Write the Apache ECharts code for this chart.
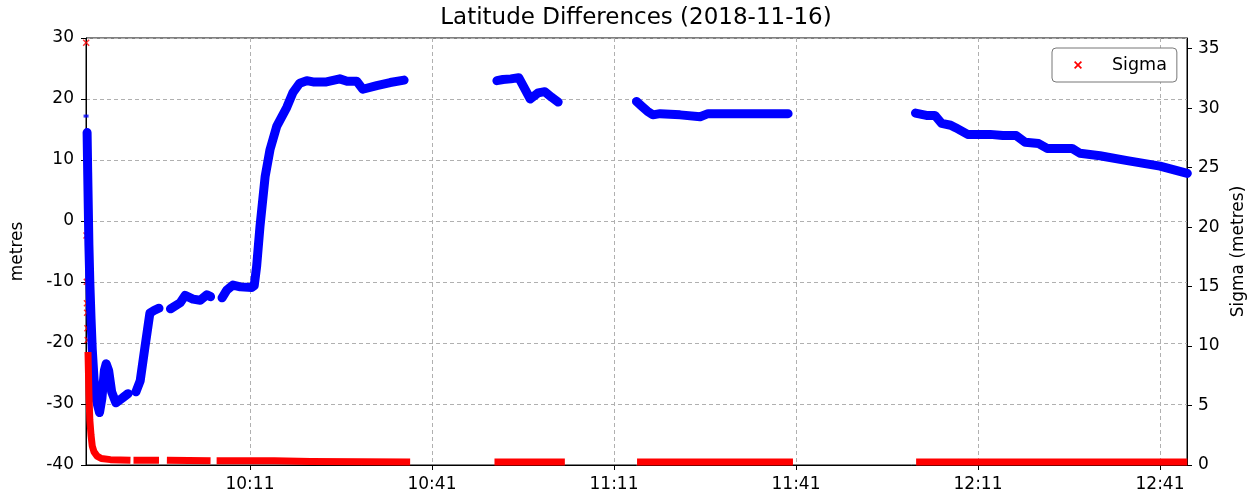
<!DOCTYPE html>
<html>
<head>
<meta charset="utf-8">
<title>Latitude Differences</title>
<script src="https://cdn.jsdelivr.net/npm/echarts@6/dist/echarts.min.js"></script>
<style>
  html, body { margin: 0; padding: 0; background: #fff; }
  #chart { width: 1260px; height: 504px; }
</style>
</head>
<body>
<div id="chart"></div>
<script>
// time is clock minutes since midnight (611 = 10:11), null = gap in the track
const latMinutes = [
  584.15, 584.25, 584.35, 584.45, 584.6, 584.8, 585.0, 585.3, 585.7, 586.2,
  586.6, 587.0, 587.3, 587.7, 588.2, 588.9, 590.0, 590.9, 591.6,
  592.2, 592.9, 593.7, 594.5, 595.3, 596.0, 596.9,
  597.9, 599.5, 600.3, 601.6, 602.8, 603.9, 604.5, 605.5,
  606.4, 607.2, 608.2, 609.4, 611.3, 611.7, 612.1, 612.65, 613.5, 614.3,
  615.4, 617.05, 618.1, 619.2, 620.35, 621.4, 623.6, 625.8, 627.0, 628.6,
  629.6, 631.9, 634.1, 636.4, 644,
  651.7, 652.7, 654.0, 655.3, 657.2, 658.5, 659.6, 660.7, 661.8, 668,
  674.7, 675.6, 676.5, 677.4, 678.6, 681.9, 685.2, 686.5, 688.5, 699.7, 710,
  720.7, 722.5, 723.9, 725.0, 726.5, 727.3, 729.3, 733.0, 735.1, 737.3,
  738.8, 741.0, 742.4, 746.5, 747.8, 751.1, 755.6, 761.0, 765.5
];
const latMetres = [
  14.5, 8, 2, -4, -10, -16, -21, -26, -29.5, -31.4,
  -29, -24.5, -23.4, -24.5, -28, -29.8, -29.0, -28.3, null,
  -28.0, -26.2, -20.6, -15.1, -14.6, -14.3, null,
  -14.4, -13.4, -12.2, -12.8, -13.0, -12.1, -12.4, null,
  -12.6, -11.3, -10.5, -10.8, -10.9, -10.6, -7.4, -0.9, 7.3, 11.7,
  15.5, 18.6, 21.1, 22.6, 23.0, 22.8, 22.8, 23.3, 22.9, 22.9,
  21.6, 22.2, 22.7, 23.1, null,
  23.0, 23.2, 23.3, 23.5, 20.0, 21.0, 21.2, 20.3, 19.5, null,
  19.6, 18.8, 18.0, 17.4, 17.6, 17.4, 17.1, 17.6, 17.6, 17.6, null,
  17.7, 17.3, 17.3, 16.0, 15.7, 15.3, 14.2, 14.2, 14.0, 14.0,
  12.9, 12.7, 11.9, 11.9, 11.1, 10.7, 9.9, 9.0, 7.8
];
const latLoneMinutes = [583.98];
const latLoneMetres = [17.2];

const sigmaMinutes = [
  584.3, 584.45, 584.6, 584.8, 585.0, 585.3, 585.8, 586.5, 588.0, 591.3,
  591.5, 591.8, 596.0, 596.5, 597.3, 604.5, 605.0, 605.5, 615.0, 621.0,
  637.4, 645, 651.3, 662.9, 668, 674.8, 700.5, 710, 720.8, 765.5
];
const sigmaMetres = [
  9.5, 6.0, 3.8, 2.5, 1.6, 1.1, 0.75, 0.55, 0.45, 0.4,
  null, 0.4, 0.4, null, 0.4, 0.35, null, 0.35, 0.35, 0.3,
  0.25, null, 0.25, 0.25, null, 0.25, 0.25, null, 0.25, 0.25
];
const sigmaSpikeMinutes = [584.0, 584.05, 584.1, 584.12, 584.15, 584.2, 584.25];
const sigmaSpikeMetres = [35.5, 19.3, 15.4, 13.6, 12.8, 11.5, 10.5];

const timeTicks = [611, 641, 671, 701, 731, 761];
const sigmaTicks = [0, 5, 10, 15, 20, 25, 30, 35];

const pairs = (xs, ys) => xs.map((x, i) => [x, ys[i] === null ? '-' : ys[i]]);
const hhmm = v => {
  const m = Math.round(v);
  return Math.floor(m / 60) + ':' + String(m % 60).padStart(2, '0');
};

const font = 'DejaVu Sans';
const xMark = 'path://M0,1.5L1.5,0L5,3.5L8.5,0L10,1.5L6.5,5L10,8.5L8.5,10L5,6.5L1.5,10L0,8.5L3.5,5Z';
const dashed = { show: true, lineStyle: { color: '#b0b0b0', width: 1, type: [4, 3] } };

const chart = echarts.init(document.getElementById('chart'));
chart.setOption({
  animation: false,
  textStyle: { fontFamily: font },
  title: {
    text: 'Latitude Differences (2018-11-16)',
    left: 631, top: 2, textAlign: 'center',
    textStyle: { fontFamily: font, fontSize: 23, fontWeight: 'normal', color: '#000' }
  },
  legend: {
    data: [{ name: 'Sigma', icon: xMark }],
    left: 1052, top: 48,
    itemWidth: 8, itemHeight: 8, itemGap: 0,
    padding: [7, 10, 7, 22],
    borderColor: '#777', borderWidth: 1, borderRadius: 4,
    backgroundColor: '#fff',
    selectedMode: false,
    itemStyle: { color: '#ff0000' },
    textStyle: { fontFamily: font, fontSize: 17.5, color: '#000', lineHeight: 20, padding: [0, 0, 0, 25] }
  },
  grid: {
    left: 86, right: 73, top: 38, bottom: 39,
    show: true, borderColor: '#000', borderWidth: 1
  },
  xAxis: {
    type: 'value',
    min: 583.97, max: 765.45,
    axisLine: { show: true, onZero: false, lineStyle: { color: '#000', width: 1 } },
    axisTick: { show: true, length: 5, customValues: timeTicks, lineStyle: { color: '#000' } },
    axisLabel: { customValues: timeTicks, formatter: hhmm, fontSize: 17, color: '#000', margin: 11 },
    splitLine: dashed
  },
  yAxis: [
    {
      type: 'value', position: 'left',
      min: -40, max: 30, interval: 10,
      name: 'metres', nameLocation: 'middle', nameGap: 60,
      nameTextStyle: { fontFamily: font, fontSize: 17, color: '#000' },
      axisLine: { show: true, onZero: false, lineStyle: { color: '#000', width: 1 } },
      axisTick: { show: true, length: 5, lineStyle: { color: '#000' } },
      axisLabel: { fontSize: 17, color: '#000', margin: 12 },
      splitLine: dashed
    },
    {
      type: 'value', position: 'right',
      min: 0, max: 35.9,
      name: 'Sigma (metres)', nameLocation: 'middle', nameGap: 42,
      nameTextStyle: { fontFamily: font, fontSize: 17, color: '#000' },
      axisLine: { show: true, onZero: false, lineStyle: { color: '#000', width: 1 } },
      axisTick: { show: true, length: 5, customValues: sigmaTicks, lineStyle: { color: '#000' } },
      axisLabel: { customValues: sigmaTicks, fontSize: 17, color: '#000', margin: 11 },
      splitLine: { show: false }
    }
  ],
  series: [
    {
      name: 'Latitude', type: 'line', yAxisIndex: 0,
      data: pairs(latMinutes, latMetres),
      symbol: 'none', showSymbol: false, clip: true,
      itemStyle: { color: '#0000ff' },
      lineStyle: { color: '#0000ff', width: 9, cap: 'round', join: 'round' }
    },
    {
      name: 'Latitude', type: 'scatter', yAxisIndex: 0,
      data: pairs(latLoneMinutes, latLoneMetres),
      symbol: 'rect', symbolSize: [5, 3],
      itemStyle: { color: '#0000ff' }
    },
    {
      name: 'Sigma', type: 'line', yAxisIndex: 1,
      data: pairs(sigmaMinutes, sigmaMetres),
      symbol: 'none', showSymbol: false, clip: true,
      itemStyle: { color: '#ff0000' },
      lineStyle: { color: '#ff0000', width: 7, cap: 'butt', join: 'round' }
    },
    {
      name: 'Sigma', type: 'scatter', yAxisIndex: 1,
      data: pairs(sigmaSpikeMinutes, sigmaSpikeMetres),
      symbol: xMark, symbolSize: 7,
      itemStyle: { color: '#ff0000' }
    }
  ]
});
</script>
</body>
</html>
